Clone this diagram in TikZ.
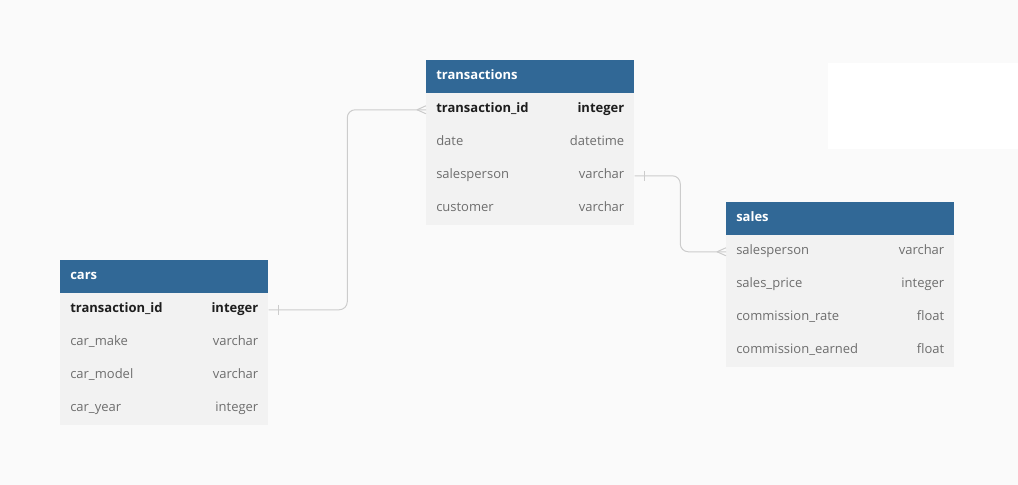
\documentclass[tikz,border=0pt]{standalone}
\usepackage{fontspec}
\setmainfont{Open Sans}
\usetikzlibrary{calc}
\definecolor{bg}{HTML}{FAFAFA}
\definecolor{hdr}{HTML}{316896}
\definecolor{rowfill}{HTML}{F2F2F2}
\definecolor{fieldtxt}{HTML}{6E6E6E}
\definecolor{pktxt}{HTML}{1E1E1E}
\definecolor{connc}{HTML}{CCCCCC}
\tikzset{
  tblhead/.style={rectangle, fill=hdr, anchor=north west, inner xsep=7.5pt, inner ysep=0pt,
    minimum height=24.75pt, text width=#1, align=left, text=white,
    font=\fontsize{9.75}{11}\selectfont\bfseries},
  tblrow/.style={rectangle, fill=rowfill, anchor=north west, inner xsep=7.5pt, inner ysep=0pt,
    minimum height=24.75pt, text width=#1, align=left, text=fieldtxt,
    font=\fontsize{9.75}{11}\selectfont},
  pkrow/.style={tblrow=#1, text=pktxt, font=\fontsize{9.75}{11}\selectfont\bfseries},
  conn/.style={draw=connc, line width=0.75pt},
}
\begin{document}
\begin{tikzpicture}[x=0.75pt,y=-0.75pt]
\fill[bg] (0,0) rectangle (1018,485);
\useasboundingbox (0,0) rectangle (1018,485);
\fill[white] (828,63) rectangle (1018,149);

% transactions
\node[tblhead=141pt] (th) at (426,60) {\strut transactions};
\node[pkrow=141pt] (t1) at (426,93) {\strut transaction\_id\hfill integer};
\node[tblrow=141pt] (t2) at (426,126) {\strut date\hfill datetime};
\node[tblrow=141pt] (t3) at (426,159) {\strut salesperson\hfill varchar};
\node[tblrow=141pt] (t4) at (426,192) {\strut customer\hfill varchar};

% cars
\node[tblhead=141pt] (ch) at (60,260) {\strut cars};
\node[pkrow=141pt] (c1) at (60,293) {\strut transaction\_id\hfill integer};
\node[tblrow=141pt] (c2) at (60,326) {\strut car\_make\hfill varchar};
\node[tblrow=141pt] (c3) at (60,359) {\strut car\_model\hfill varchar};
\node[tblrow=141pt] (c4) at (60,392) {\strut car\_year\hfill integer};

% sales
\node[tblhead=156pt] (sh) at (726,202) {\strut sales};
\node[tblrow=156pt] (s1) at (726,235) {\strut salesperson\hfill varchar};
\node[tblrow=156pt] (s2) at (726,268) {\strut sales\_price\hfill integer};
\node[tblrow=156pt] (s3) at (726,301) {\strut commission\_rate\hfill float};
\node[tblrow=156pt] (s4) at (726,334) {\strut commission\_earned\hfill float};

% connectors
\draw[conn, rounded corners=6pt] (c1.east) -| ($(c1.east)!0.5!(t1.west)$) |- (t1.west);
\draw[conn] ($(c1.east)+(10,-5)$) -- ($(c1.east)+(10,5)$);
\draw[conn] ($(t1.west)+(-9,0)$) -- ($(t1.west)+(0,-4)$);
\draw[conn] ($(t1.west)+(-9,0)$) -- ($(t1.west)+(0,4)$);

\draw[conn, rounded corners=6pt] (t3.east) -| ($(t3.east)!0.5!(s1.west)$) |- (s1.west);
\draw[conn] ($(t3.east)+(10,-5)$) -- ($(t3.east)+(10,5)$);
\draw[conn] ($(s1.west)+(-9,0)$) -- ($(s1.west)+(0,-4)$);
\draw[conn] ($(s1.west)+(-9,0)$) -- ($(s1.west)+(0,4)$);
\end{tikzpicture}
\end{document}
